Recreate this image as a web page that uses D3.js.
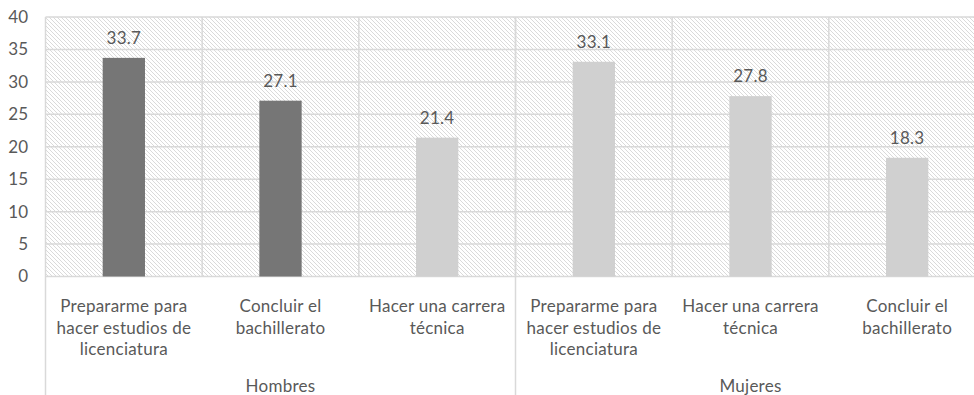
<!DOCTYPE html>
<html>
<head>
<meta charset="utf-8">
<script src="https://cdn.jsdelivr.net/npm/d3@7"></script>
<style>
  html, body { margin: 0; padding: 0; background: #fff; }
  svg { display: block; font-family: Lato, "Open Sans", sans-serif; }
</style>
</head>
<body>
<svg id="chart" width="974" height="395"></svg>
<script>
// Motivos para continuar estudiando, por sexo (%)
const groups = ["Hombres", "Mujeres"];
const hombresCategories = [
  "Prepararme para\nhacer estudios de\nlicenciatura",
  "Concluir el\nbachillerato",
  "Hacer una carrera\ntécnica"
];
const mujeresCategories = [
  "Prepararme para\nhacer estudios de\nlicenciatura",
  "Hacer una carrera\ntécnica",
  "Concluir el\nbachillerato"
];
const hombresValues = [33.7, 27.1, 21.4];
const mujeresValues = [33.1, 27.8, 18.3];
const yTicks = [0, 5, 10, 15, 20, 25, 30, 35, 40];

// Flatten into rows for the band scale
const rows = [];
[[hombresCategories, hombresValues], [mujeresCategories, mujeresValues]].forEach(([cats, vals], g) => {
  cats.forEach((c, i) => rows.push({ group: groups[g], g, i, label: c, value: vals[i], key: g + "-" + i }));
});

const svg = d3.select("#chart");
const plotLeft = 45.5, plotRight = 985.5, plotTop = 17, plotBottom = 276.5;

const x = d3.scaleBand().domain(rows.map(d => d.key)).range([plotLeft, plotRight]).paddingInner(0).paddingOuter(0);
const y = d3.scaleLinear().domain([0, 40]).range([plotBottom, plotTop]);

const gridColor = "#d9d9d9";
const textColor = "#595959";
const fontSize = 17;
const spacing = "0.25px";

// Diagonal hatch fill for the plot area
const defs = svg.append("defs");
const pat = defs.append("pattern")
  .attr("id", "hatch").attr("patternUnits", "userSpaceOnUse")
  .attr("width", 4).attr("height", 4);
pat.append("rect").attr("width", 4).attr("height", 4).attr("fill", "#fff");
pat.append("path")
  .attr("d", "M0,0 L4,4 M-1,3 L1,5 M3,-1 L5,1")
  .attr("stroke", "#dadada").attr("stroke-width", 1).attr("fill", "none");

svg.append("rect")
  .attr("x", plotLeft).attr("y", plotTop)
  .attr("width", plotRight - plotLeft).attr("height", plotBottom - plotTop)
  .attr("fill", "url(#hatch)");

// Horizontal gridlines
svg.append("g").selectAll("line").data(yTicks).join("line")
  .attr("x1", plotLeft).attr("x2", plotRight)
  .attr("y1", d => y(d)).attr("y2", d => y(d))
  .attr("stroke", gridColor).attr("stroke-width", 1.5);

// Vertical separators between categories
const keys = x.domain();
svg.append("g").selectAll("line").data(keys.slice(1)).join("line")
  .attr("x1", d => x(d)).attr("x2", d => x(d))
  .attr("y1", plotTop).attr("y2", plotBottom)
  .attr("stroke", gridColor).attr("stroke-width", 1.5);

// Left axis line and group divider running through the label rows
const groupStarts = groups.map((gname, g) => x(rows.find(r => r.g === g).key));
svg.append("g").selectAll("line").data(groupStarts).join("line")
  .attr("x1", d => d).attr("x2", d => d)
  .attr("y1", plotTop).attr("y2", 395)
  .attr("stroke", gridColor).attr("stroke-width", 1.5);

// Y axis labels
svg.append("g").selectAll("text").data(yTicks).join("text")
  .attr("x", 28).attr("y", d => y(d)).attr("dy", "0.35em")
  .attr("text-anchor", "end")
  .attr("fill", textColor).attr("font-size", fontSize)
  .text(d => d);

// Bars (first two Hombres reasons emphasised in dark grey)
const barW = x.bandwidth() * 0.27;
svg.append("g").selectAll("rect").data(rows).join("rect")
  .attr("x", d => x(d.key) + (x.bandwidth() - barW) / 2)
  .attr("y", d => y(d.value))
  .attr("width", barW)
  .attr("height", d => y(0) - y(d.value))
  .attr("fill", d => (d.g === 0 && d.i < 2) ? "#767676" : "#d0d0d0");

// Value labels
svg.append("g").selectAll("text").data(rows).join("text")
  .attr("x", d => x(d.key) + x.bandwidth() / 2)
  .attr("y", d => y(d.value) - 14)
  .attr("text-anchor", "middle")
  .attr("fill", textColor).attr("font-size", fontSize)
  .attr("letter-spacing", spacing)
  .text(d => d.value.toFixed(1));

// Category labels (multi-line)
const catG = svg.append("g").selectAll("text").data(rows).join("text")
  .attr("text-anchor", "middle")
  .attr("fill", textColor).attr("font-size", fontSize)
  .attr("letter-spacing", spacing);
catG.each(function(d) {
  const t = d3.select(this);
  d.label.split("\n").forEach((line, k) => {
    t.append("tspan")
      .attr("x", x(d.key) + x.bandwidth() / 2)
      .attr("y", plotBottom + 35.5 + k * 21.7)
      .text(line);
  });
});

// Group labels
svg.append("g").selectAll("text").data(groups).join("text")
  .attr("x", (d, g) => {
    const ks = rows.filter(r => r.g === g).map(r => r.key);
    return (x(ks[0]) + x(ks[ks.length - 1]) + x.bandwidth()) / 2;
  })
  .attr("y", 392)
  .attr("text-anchor", "middle")
  .attr("fill", textColor).attr("font-size", fontSize)
  .attr("letter-spacing", spacing)
  .text(d => d);
</script>
</body>
</html>
